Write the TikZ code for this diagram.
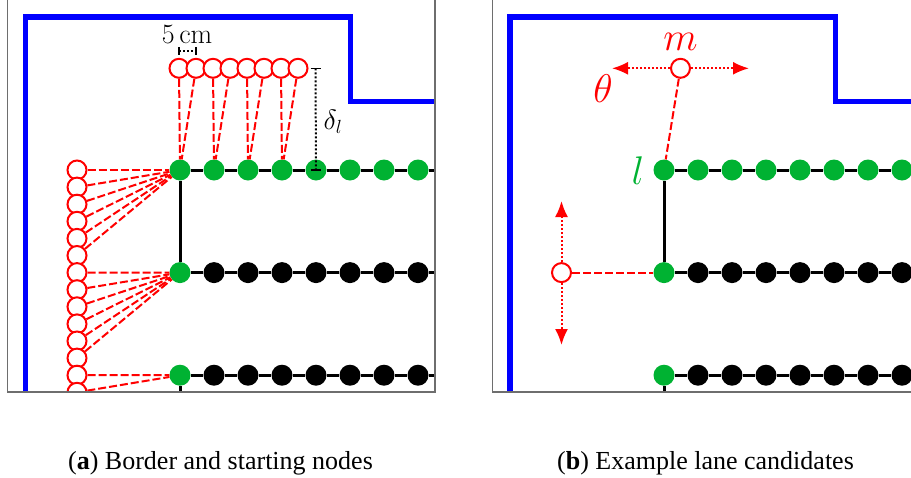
\RequirePackage{fix-cm}
\documentclass[tikz,border=0pt]{standalone}
\usepackage{fontspec}
\newfontfamily\capfont{Liberation Serif}
\usetikzlibrary{arrows.meta}
\definecolor{lgreen}{RGB}{0,178,50}
\definecolor{framegray}{RGB}{110,110,110}
\DeclareMathSizes{28}{28}{19}{15}
\DeclareMathSizes{40}{40}{26}{20}
\tikzset{
  lanenode/.style={circle, fill=black, minimum size=21pt, inner sep=0pt},
  startnode/.style={lanenode, fill=lgreen},
  cand/.style={circle, draw=red, line width=2pt, fill=white, minimum size=19pt, inner sep=0pt},
  link/.style={red, line width=2pt, dash pattern=on 8pt off 3pt},
  border/.style={blue, line width=5.5pt},
  lane/.style={line width=3pt},
  panelframe/.style={draw=framegray, line width=1.5pt},
  dimline/.style={line width=2pt, dash pattern=on 2pt off 2pt},
  dimtick/.style={line width=1.3pt},
  move/.style={red, line width=2pt, dash pattern=on 2pt off 2pt, -{Latex[length=16pt,width=13pt]}},
  caption/.style={font=\capfont\fontsize{26}{30}\selectfont, anchor=base},
  smallmath/.style={font=\fontsize{28}{32}\selectfont},
  bigmath/.style={font=\fontsize{40}{44}\selectfont},
}
\begin{document}
\begin{tikzpicture}[x=1pt,y=-1pt]
\useasboundingbox (0,0) rectangle (911,477);

% ---------------- panel (a) ----------------
\begin{scope}
\clip (7.5,-10) rectangle (435,392);
\draw[border] (25.5,400) -- (25.5,17) -- (350.5,17) -- (350.5,101.5) -- (445,101.5);
\foreach \r/\y in {1/170,2/272.6,3/375.2}{
  \foreach \i in {1,...,8}{
    \pgfmathtruncatemacro\g{(\r==1)||(\i==1)}
    \ifnum\g=1
      \node[startnode] (a\r\i) at ({180+34*(\i-1)},\y) {};
    \else
      \node[lanenode] (a\r\i) at ({180+34*(\i-1)},\y) {};
    \fi
  }
}
\foreach \r in {1,2,3}{
  \foreach \i [evaluate=\i as \j using int(\i+1)] in {1,...,7}{
    \draw[lane] (a\r\i) -- (a\r\j);
  }
  \coordinate (ae\r) at ([xshift=30pt]a\r8.center);
  \draw[lane] (a\r8) -- (ae\r);
}
\draw[lane] (a11) -- (a21);
\coordinate (abot) at ([yshift=-30pt]a31.center);
\draw[lane] (a31) -- (abot);

% left candidates
\foreach \k in {0,...,13}{
  \node[cand] (l\k) at (77,{170+17.1*\k}) {};
}
\foreach \k in {0,...,5}{ \draw[link] (l\k) -- (a11); }
\foreach \k in {6,...,11}{ \draw[link] (l\k) -- (a21); }
\foreach \k in {12,13}{ \draw[link] (l\k) -- (a31); }

% top candidates
\foreach \k in {0,...,7}{
  \node[cand] (t\k) at ({179+17*\k},68.3) {};
}
\foreach \k in {0,...,7}{
  \pgfmathtruncatemacro\n{int(\k/2)+1}
  \draw[link] (t\k) -- (a1\n);
}

% 5 cm dimension
\coordinate (d1) at (179,51);
\coordinate (d2) at (196,51);
\draw[dimline] (d1) -- (d2);
\draw[dimtick] ([yshift=4pt]d1) -- ([yshift=-4pt]d1);
\draw[dimtick] ([yshift=4pt]d2) -- ([yshift=-4pt]d2);
\node[anchor=base, smallmath] (fivecm) at (187,43) {$5\,\mathrm{cm}$};

% delta_l dimension
\coordinate (dt) at (315.5,68.3);
\coordinate (db) at (a15.center);
\draw[dimline] (dt) -- (db);
\draw[dimtick] ([xshift=-5pt]dt) -- ([xshift=5pt]dt);
\draw[dimtick] ([xshift=-5pt]db) -- ([xshift=5pt]db);
\node[smallmath] (dl) at (333,122) {$\delta_l$};
\end{scope}
\draw[panelframe] (7.5,-10) -- (7.5,392) -- (435,392) -- (435,-10);

% ---------------- panel (b) ----------------
\begin{scope}
\clip (492.5,-10) rectangle (920,392);
\draw[border] (510,400) -- (510,17) -- (835.5,17) -- (835.5,101.5) -- (920,101.5);
\foreach \r/\y in {1/170,2/272.6,3/375.2}{
  \foreach \i in {1,...,8}{
    \pgfmathtruncatemacro\g{(\r==1)||(\i==1)}
    \ifnum\g=1
      \node[startnode] (b\r\i) at ({664+34*(\i-1)},\y) {};
    \else
      \node[lanenode] (b\r\i) at ({664+34*(\i-1)},\y) {};
    \fi
  }
}
\foreach \r in {1,2,3}{
  \foreach \i [evaluate=\i as \j using int(\i+1)] in {1,...,7}{
    \draw[lane] (b\r\i) -- (b\r\j);
  }
  \coordinate (be\r) at ([xshift=30pt]b\r8.center);
  \draw[lane] (b\r8) -- (be\r);
}
\draw[lane] (b11) -- (b21);
\coordinate (bbot) at ([yshift=-30pt]b31.center);
\draw[lane] (b31) -- (bbot);

\node[text=lgreen, bigmath] (lab) at (638,171) {$l$};

% candidate m
\node[cand] (m) at (680.5,68.3) {};
\node[text=red, bigmath] (mlab) at (680.5,42) {$m$};
\coordinate (ml) at (612,68.3);
\coordinate (mr) at (749,68.3);
\draw[move] (m) -- (ml);
\draw[move] (m) -- (mr);
\node[text=red, bigmath] (th) at (603,89) {$\theta$};
\draw[link] (m) -- (b11);

% second candidate
\node[cand] (c) at (561.5,272.6) {};
\coordinate (cu) at (561.5,201);
\coordinate (cd) at (561.5,345);
\draw[move] (c) -- (cu);
\draw[move] (c) -- (cd);
\draw[link] (c) -- (b21);
\end{scope}
\draw[panelframe] (492.5,-10) -- (492.5,392) -- (920,392);

% captions
\node[caption] (capa) at (220.5,469) {(\textbf{a}) Border and starting nodes};
\node[caption] (capb) at (705.5,469) {(\textbf{b}) Example lane candidates};
\end{tikzpicture}
\end{document}
